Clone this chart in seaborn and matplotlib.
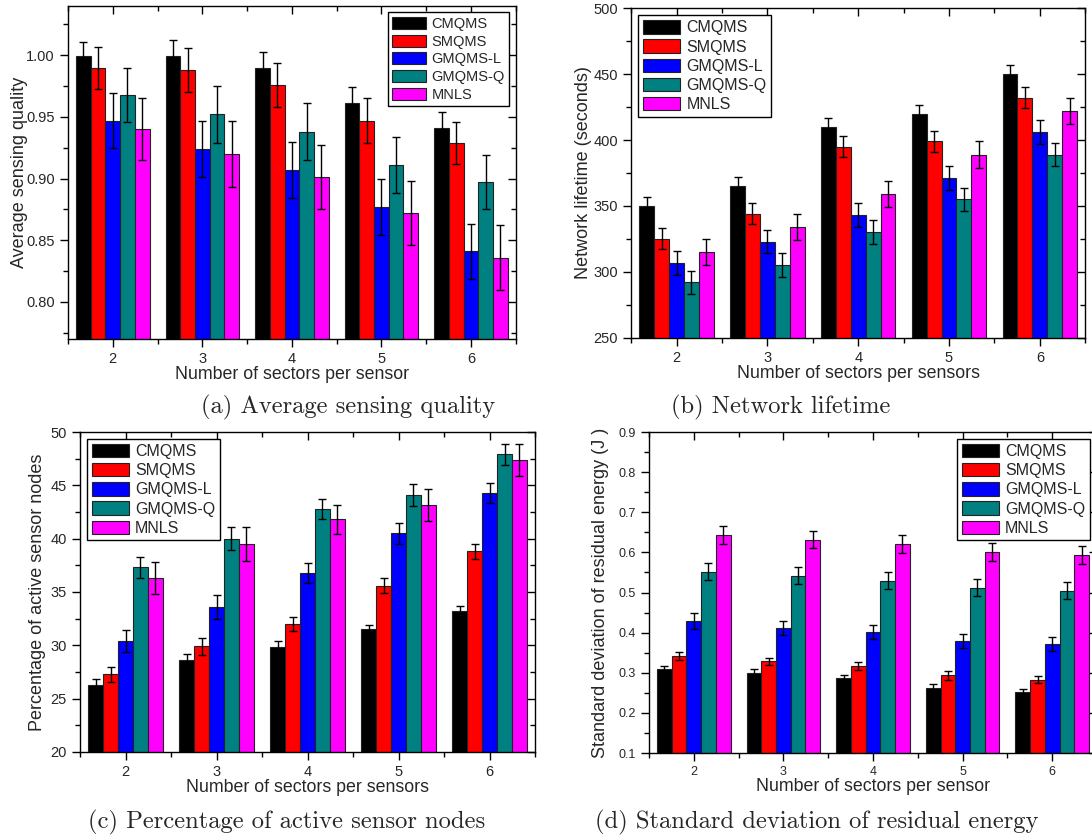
import pandas as pd
import matplotlib
matplotlib.use('Agg')
from matplotlib import pyplot as plt
from matplotlib.ticker import MultipleLocator, FormatStrFormatter
import seaborn as sns

# Categories and series names
sectors = ['2', '3', '4', '5', '6']
methods = ['CMQMS', 'SMQMS', 'GMQMS-L', 'GMQMS-Q', 'MNLS']
colors = ['#000000', '#FF0000', '#0000FF', '#008080', '#FF00FF']

# (a) Average sensing quality, one row per method over sectors 2..6
quality = [
    [0.999, 0.999, 0.990, 0.961, 0.941],
    [0.990, 0.988, 0.976, 0.947, 0.929],
    [0.947, 0.924, 0.907, 0.877, 0.841],
    [0.968, 0.952, 0.938, 0.911, 0.897],
    [0.940, 0.920, 0.901, 0.872, 0.836],
]
quality_err = [
    [0.012, 0.013, 0.013, 0.013, 0.013],
    [0.017, 0.018, 0.018, 0.018, 0.017],
    [0.022, 0.023, 0.023, 0.023, 0.022],
    [0.022, 0.023, 0.023, 0.023, 0.022],
    [0.025, 0.027, 0.026, 0.026, 0.026],
]

# (b) Network lifetime (seconds)
lifetime = [
    [350, 365, 410, 420, 450],
    [325, 344, 395, 399, 432],
    [307, 323, 343, 371, 406],
    [292, 305, 330, 355, 389],
    [315, 334, 359, 389, 422],
]
lifetime_err = [
    [7, 7, 7, 7, 7],
    [8, 8, 8, 8, 8],
    [9, 9, 9, 9, 9],
    [9, 9, 9, 9, 9],
    [10, 10, 10, 10, 10],
]

# (c) Percentage of active sensor nodes
active = [
    [26.3, 28.6, 29.8, 31.5, 33.2],
    [27.3, 29.9, 32.0, 35.6, 38.8],
    [30.4, 33.6, 36.8, 40.5, 44.3],
    [37.3, 40.0, 42.8, 44.1, 47.9],
    [36.3, 39.5, 41.8, 43.2, 47.4],
]
active_err = [
    [0.5, 0.55, 0.6, 0.4, 0.5],
    [0.7, 0.8, 0.65, 0.7, 0.7],
    [1.0, 1.1, 0.95, 1.0, 0.95],
    [1.0, 1.1, 0.95, 1.0, 1.0],
    [1.5, 1.6, 1.4, 1.5, 1.5],
]

# (d) Standard deviation of residual energy (J)
stdev = [
    [0.309, 0.300, 0.286, 0.263, 0.251],
    [0.341, 0.329, 0.316, 0.294, 0.283],
    [0.429, 0.411, 0.401, 0.379, 0.371],
    [0.552, 0.542, 0.529, 0.512, 0.504],
    [0.644, 0.632, 0.621, 0.601, 0.594],
]
stdev_err = [
    [0.009, 0.009, 0.008, 0.008, 0.008],
    [0.010, 0.009, 0.010, 0.011, 0.009],
    [0.019, 0.017, 0.017, 0.018, 0.018],
    [0.021, 0.022, 0.021, 0.021, 0.021],
    [0.022, 0.022, 0.022, 0.022, 0.022],
]

sns.set_style('ticks')
plt.rcParams['font.family'] = ['Liberation Sans', 'DejaVu Sans']

fig = plt.figure(figsize=(10.92, 8.39), dpi=100)


def make_frame(values):
    rows = []
    for m, series in zip(methods, values):
        for s, v in zip(sectors, series):
            rows.append({'sectors': s, 'method': m, 'value': v})
    return pd.DataFrame(rows)


def draw_panel(pos, values, errs, ylim, major, minor, fmt, ylabel, xlabel,
               legend_loc, tick_fs, leg_fs, ypad):
    ax = fig.add_axes(pos)
    df = make_frame(values)
    sns.barplot(data=df, x='sectors', y='value', hue='method',
                order=sectors, hue_order=methods, palette=colors,
                width=0.82, edgecolor='#222222', linewidth=0.8,
                errorbar=None, saturation=1, ax=ax)

    # error bars on top of each bar
    for container, err in zip(ax.containers, errs):
        xs = [b.get_x() + b.get_width() / 2 for b in container]
        hs = [b.get_height() for b in container]
        ax.errorbar(xs, hs, yerr=err, fmt='none', ecolor='black',
                    elinewidth=1, capsize=3, capthick=1, zorder=5)

    ax.set_xlim(-0.5, 4.5)
    ax.set_ylim(*ylim)
    ax.yaxis.set_major_locator(MultipleLocator(major))
    ax.yaxis.set_minor_locator(MultipleLocator(minor))
    ax.yaxis.set_major_formatter(FormatStrFormatter(fmt))
    ax.xaxis.set_minor_locator(MultipleLocator(0.5))

    for sp in ax.spines.values():
        sp.set_visible(True)
        sp.set_linewidth(1)
        sp.set_color('black')

    ax.tick_params(axis='both', which='major', direction='out', length=6,
                   width=1, labelsize=tick_fs, color='black')
    ax.tick_params(axis='both', which='minor', direction='out', length=3.5,
                   width=1, color='black')
    ax.tick_params(which='both', top=True, right=True)
    # mirrored ticks point inward
    for t in ax.xaxis.get_major_ticks() + ax.xaxis.get_minor_ticks():
        t.tick2line.set_marker(matplotlib.lines.TICKDOWN)
    for t in ax.yaxis.get_major_ticks() + ax.yaxis.get_minor_ticks():
        t.tick2line.set_marker(matplotlib.lines.TICKLEFT)

    ax.set_xlabel(xlabel, fontsize=12.8, labelpad=0)
    ax.set_ylabel(ylabel, fontsize=13, labelpad=ypad)

    old = ax.get_legend()
    handles = old.legend_handles
    labels = [t.get_text() for t in old.get_texts()]
    leg = ax.legend(handles, labels, loc=legend_loc, frameon=True,
                    fancybox=False, edgecolor='black', framealpha=1,
                    borderpad=0.3, labelspacing=0.25, handlelength=2.3,
                    handleheight=0.9, handletextpad=0.4, borderaxespad=0.45,
                    fontsize=leg_fs)
    leg.get_frame().set_linewidth(1)
    return ax


draw_panel([0.0623, 0.596, 0.410, 0.397], quality, quality_err,
           (0.77, 1.04), 0.05, 0.025, '%.2f', 'Average sensing quality',
           'Number of sectors per sensor', 'upper right', 10.5, 10.5, -1)
draw_panel([0.578, 0.5974, 0.4158, 0.3927], lifetime, lifetime_err,
           (250, 500), 50, 25, '%d', 'Network lifetime (seconds)',
           'Number of sectors per sensors', 'upper left', 10.5, 11.5, 1)
draw_panel([0.0733, 0.1037, 0.4167, 0.3814], active, active_err,
           (20, 50), 5, 2.5, '%d', 'Percentage of active sensor nodes',
           'Number of sectors per sensors', 'upper left', 10.5, 11.5, 3)
draw_panel([0.5943, 0.1025, 0.4103, 0.3826], stdev, stdev_err,
           (0.1, 0.9), 0.1, 0.05, '%.1f', 'Standard deviation of residual energy (J )',
           'Number of sectors per sensor', 'upper right', 9, 11.5, 7)

# sub-figure captions
cap = dict(family=['cmr10', 'DejaVu Serif'], fontsize=17.7, ha='center', va='center')
fig.text(348 / 1092, 1 - 407 / 839, '(a) Average sensing quality', **cap)
fig.text(781 / 1092, 1 - 407 / 839, '(b) Network lifetime', **cap)
fig.text(287 / 1092, 1 - 822 / 839, '(c) Percentage of active sensor nodes', **cap)
fig.text(817 / 1092, 1 - 822 / 839, '(d) Standard deviation of residual energy', **cap)

plt.savefig('out.png', dpi=100)
